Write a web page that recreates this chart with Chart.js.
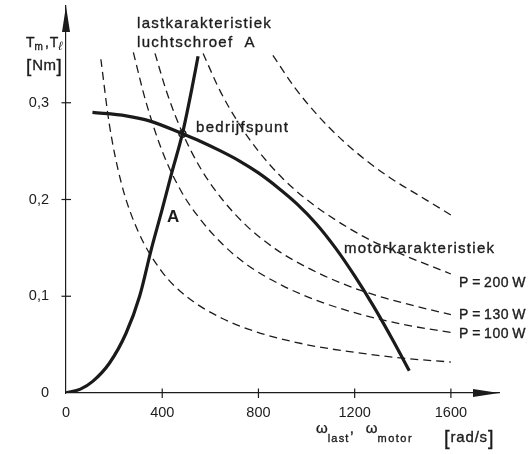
<!DOCTYPE html>
<html><head><meta charset="utf-8">
<script src="https://cdn.jsdelivr.net/npm/chart.js@4/dist/chart.umd.min.js"></script>
<style>html,body{margin:0;padding:0;background:#fff}canvas{display:block}</style>
</head><body>
<canvas id="c" width="532" height="454"></canvas>
<script>
// ---- data ----
const xTicks = [0, 400, 800, 1200, 1600];
const yTicks = [0, 0.1, 0.2, 0.3];

// motor characteristic (omega rad/s, torque Nm)
const motorW = [110, 250, 350, 484, 560, 640, 720, 800, 880, 960, 1040, 1120, 1200, 1280, 1360, 1427];
const motorT = [0.290, 0.2865, 0.281, 0.268, 0.260, 0.2505, 0.240, 0.2275, 0.2125, 0.1955, 0.175, 0.150, 0.121, 0.089, 0.054, 0.023];

// load characteristic, propeller A
const loadW = [0, 60, 111, 181, 250, 306, 354, 400, 440, 484, 522, 549];
const loadT = [0, 0.004, 0.012, 0.031, 0.062, 0.100, 0.148, 0.190, 0.228, 0.268, 0.313, 0.348];

// constant power curves
const p50W  = [145, 180, 230, 300, 400, 500, 650, 800, 1000, 1200, 1400, 1600];
const p50T  = [0.345, 0.278, 0.217, 0.167, 0.125, 0.100, 0.077, 0.0625, 0.050, 0.042, 0.036, 0.032];
const p100W = [280, 330, 400, 480, 560, 650, 750, 900, 1050, 1200, 1400, 1600];
const p100T = [0.352, 0.303, 0.250, 0.208, 0.179, 0.154, 0.133, 0.111, 0.095, 0.083, 0.071, 0.0625];
const p130W = [370, 420, 484, 560, 650, 750, 870, 1000, 1150, 1300, 1450, 1600];
const p130T = [0.351, 0.310, 0.269, 0.232, 0.200, 0.173, 0.149, 0.130, 0.113, 0.100, 0.090, 0.081];
const p200W = [570, 640, 720, 800, 900, 1000, 1120, 1250, 1400, 1600];
const p200T = [0.351, 0.3125, 0.278, 0.250, 0.222, 0.200, 0.179, 0.160, 0.143, 0.123];
const p300W = [860, 950, 1050, 1150, 1250, 1350, 1475, 1600];
const p300T = [0.349, 0.316, 0.286, 0.261, 0.240, 0.222, 0.203, 0.184];

// operating point
const opW = [484];
const opT = [0.268];

const powerLabels = ['P\u2009=\u2009200\u2009W', 'P\u2009=\u2009130\u2009W', 'P\u2009=\u2009100\u2009W'];
const powerLabelT = [0.115, 0.082, 0.062];

// ---- chart ----
const ink = '#1c1c1c';
const FONT = "'Liberation Sans', Arial, sans-serif";
const pts = (w, t) => w.map((v, i) => ({x: v, y: t[i]}));

function dashed(w, t) {
  return {data: pts(w, t), borderColor: ink, borderWidth: 1.3, borderDash: [8, 5],
          pointRadius: 0, cubicInterpolationMode: 'monotone', fill: false};
}
function solid(w, t) {
  return {data: pts(w, t), borderColor: '#1a1a1a', borderWidth: 3.2,
          pointRadius: 0, cubicInterpolationMode: 'monotone', fill: false,
          borderCapStyle: 'butt'};
}

const overlay = {
  id: 'overlay',
  afterDraw(chart) {
    const ctx = chart.ctx, a = chart.chartArea;
    const xs = chart.scales.x, ys = chart.scales.y;
    ctx.save();
    ctx.strokeStyle = ink; ctx.fillStyle = ink; ctx.lineWidth = 1.2;
    // tick marks crossing axes
    xTicks.forEach(v => { if (v === 0) return; const p = xs.getPixelForValue(v);
      ctx.beginPath(); ctx.moveTo(p, a.bottom - 4.5); ctx.lineTo(p, a.bottom + 5); ctx.stroke(); });
    yTicks.forEach(v => { if (v === 0) return; const p = ys.getPixelForValue(v);
      ctx.beginPath(); ctx.moveTo(a.left - 4.5, p); ctx.lineTo(a.left + 5, p); ctx.stroke(); });
    // arrows
    ctx.beginPath(); ctx.moveTo(a.left, a.top); ctx.lineTo(a.left - 4, a.top + 26); ctx.lineTo(a.left + 4, a.top + 26); ctx.closePath(); ctx.fill();
    ctx.beginPath(); ctx.moveTo(a.right, a.bottom); ctx.lineTo(a.right - 26, a.bottom - 4); ctx.lineTo(a.right - 26, a.bottom + 4); ctx.closePath(); ctx.fill();

    ctx.lineWidth = 0.35;
    function t(s, x, y, size, sp, weight) {
      ctx.font = (weight || 'normal') + ' ' + size + 'px ' + FONT;
      ctx.letterSpacing = (sp || 0) + 'px';
      ctx.textAlign = 'left'; ctx.textBaseline = 'alphabetic';
      ctx.fillText(s, x, y);
      if (!weight) ctx.strokeText(s, x, y);
      return x + ctx.measureText(s).width;
    }
    t('lastkarakteristiek', 137, 28, 15, 1.3);
    t('luchtschroef  A', 137, 46.5, 15, 1.3);
    t('bedrijfspunt', 196, 132, 15, 1.3);
    t('motorkarakteristiek', 344, 253, 15, 1.3);
    powerLabels.forEach((s, i) => t(s, 459, ys.getPixelForValue(powerLabelT[i]) + 5, 14, 0.5));
    t('A', 167, 222, 17, 0, 'bold');

    // y-axis title
    let x = t('T', 26, 47, 14, 0);
    x = t('m', x, 50, 10, 0);
    x = t(',', x + 2, 47, 14, 0);
    x = t('T', x + 1, 47, 14, 0);
    t('ℓ', x, 50, 12, 0, 'italic');
    x = t('[', 26, 72, 19, 0);
    x = t('Nm', x + 1, 70, 15, 0.5);
    t(']', x, 72, 19, 0);

    // x-axis title
    x = t('ω', 316, 433, 15, 0);
    x = t('last', x, 442, 11, 1.2);
    x = t(',', x, 433, 15, 0);
    x = t('ω', x + 12, 433, 15, 0);
    t('motor', x, 442, 11, 1.5);
    x = t('[', 444, 445, 20, 0);
    x = t('rad/s', x + 1, 442, 15, 0.8);
    t(']', x, 445, 20, 0);
    ctx.restore();
  }
};

new Chart(document.getElementById('c'), {
  type: 'line',
  data: {
    datasets: [
      dashed(p50W, p50T), dashed(p100W, p100T), dashed(p130W, p130T),
      dashed(p200W, p200T), dashed(p300W, p300T),
      solid(motorW, motorT), solid(loadW, loadT),
      {data: pts(opW, opT), showLine: false, pointRadius: 3.5, pointBackgroundColor: '#fff',
       pointBorderColor: '#1a1a1a', pointBorderWidth: 1.5}
    ]
  },
  options: {
    responsive: false, animation: false, events: [],
    layout: {padding: {top: 6, right: 33, left: 0, bottom: 0}},
    plugins: {legend: {display: false}, tooltip: {enabled: false}},
    scales: {
      x: {type: 'linear', min: 0, max: 1800,
          afterBuildTicks: s => { s.ticks = xTicks.map(v => ({value: v})); },
          afterFit: s => { s.height = 61; s.paddingLeft = 0; s.paddingRight = 0; },
          ticks: {color: ink, font: {family: FONT, size: 14.5}, padding: 11, maxRotation: 0, autoSkip: false,
                  callback: v => String(v)},
          grid: {drawOnChartArea: false, drawTicks: false},
          border: {color: ink, width: 1.2}},
      y: {type: 'linear', min: 0, max: 0.4,
          afterBuildTicks: s => { s.ticks = yTicks.map(v => ({value: v})); },
          afterFit: s => { s.width = 66; s.paddingTop = 0; s.paddingBottom = 0; },
          ticks: {color: ink, font: {family: FONT, size: 14.5}, padding: 17,
                  callback: v => v === 0 ? '0' : v.toFixed(1).replace('.', ',')},
          grid: {drawOnChartArea: false, drawTicks: false},
          border: {color: ink, width: 1.2}}
    }
  },
  plugins: [overlay]
});
</script>
</body></html>
